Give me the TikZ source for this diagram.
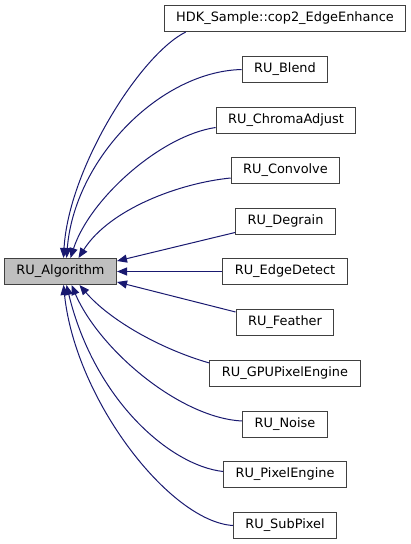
\documentclass[tikz,border=0pt]{standalone}
\usepackage{fontspec}
\setmainfont{DejaVu Sans}
\usetikzlibrary{arrows.meta}
\definecolor{edgeblue}{HTML}{191970}
\definecolor{basegray}{HTML}{BFBFBF}
\definecolor{boxline}{HTML}{404040}

\begin{document}
\begin{tikzpicture}[x=1pt, y=-1pt,
  cls/.style={draw=boxline, line width=1pt, fill=white, inner xsep=12pt, inner ysep=0pt,
    minimum height=26pt, font=\fontsize{12.9}{15}\selectfont},
  base/.style={cls, fill=basegray},
  inherit/.style={draw=edgeblue, line width=1pt, -{Triangle[length=10pt,width=8pt]}}]
\useasboundingbox[fill=white] (0,0) rectangle (411,544);
% base class
\node[base] (algorithm) at (60.5,271.5) {RU\_Algorithm};
% derived classes
\node[cls] (edgeEnhance) at (285,18.5) {HDK\_Sample::cop2\_EdgeEnhance};
\node[cls] (blend) at (285,69.5) {RU\_Blend};
\node[cls] (chromaAdjust) at (286,120) {RU\_ChromaAdjust};
\node[cls] (convolve) at (285.5,170.5) {RU\_Convolve};
\node[cls] (degrain) at (285.5,221) {RU\_Degrain};
\node[cls] (edgeDetect) at (285,271.5) {RU\_EdgeDetect};
\node[cls] (feather) at (285,322.5) {RU\_Feather};
\node[cls] (gpuPixelEngine) at (285,373.5) {RU\_GPUPixelEngine};
\node[cls] (noise) at (285,424) {RU\_Noise};
\node[cls] (pixelEngine) at (285,474.5) {RU\_PixelEngine};
\node[cls] (subPixel) at (285,525.5) {RU\_SubPixel};
% inheritance edges
\draw[inherit] ([xshift=22pt]edgeEnhance.south west) .. controls +(-46,23) and +(5,-89) .. ([xshift=3pt]algorithm.north);
\draw[inherit] (blend.west) .. controls +(-82,2) and +(8,-99) .. ([xshift=6pt]algorithm.north);
\draw[inherit] ([yshift=6pt]chromaAdjust.south west) .. controls +(-55,8) and +(19,-59) .. ([xshift=10pt]algorithm.north);
\draw[inherit] ([yshift=6pt]convolve.south west) .. controls +(-51,5) and +(31,-49) .. ([xshift=18pt]algorithm.north);
\draw[inherit] ([yshift=2pt]degrain.south west) -- ([yshift=-3pt]algorithm.north east);
\draw[inherit] (edgeDetect.west) -- (algorithm.east);
\draw[inherit] ([yshift=-3pt]feather.north west) -- ([yshift=3pt]algorithm.south east);
\draw[inherit] ([yshift=-3pt]gpuPixelEngine.north west) .. controls +(-49,-14) and +(30,35) .. ([xshift=19pt]algorithm.south);
\draw[inherit] ([yshift=3pt]noise.west) .. controls +(-62,-3) and +(28,65) .. ([xshift=11pt]algorithm.south);
\draw[inherit] ([yshift=3pt]pixelEngine.west) .. controls +(-53,-6) and +(28,115) .. ([xshift=6pt]algorithm.south);
\draw[inherit] (subPixel.west) .. controls +(-63,-4) and +(12,115) .. ([xshift=3pt]algorithm.south);
\end{tikzpicture}
\end{document}
